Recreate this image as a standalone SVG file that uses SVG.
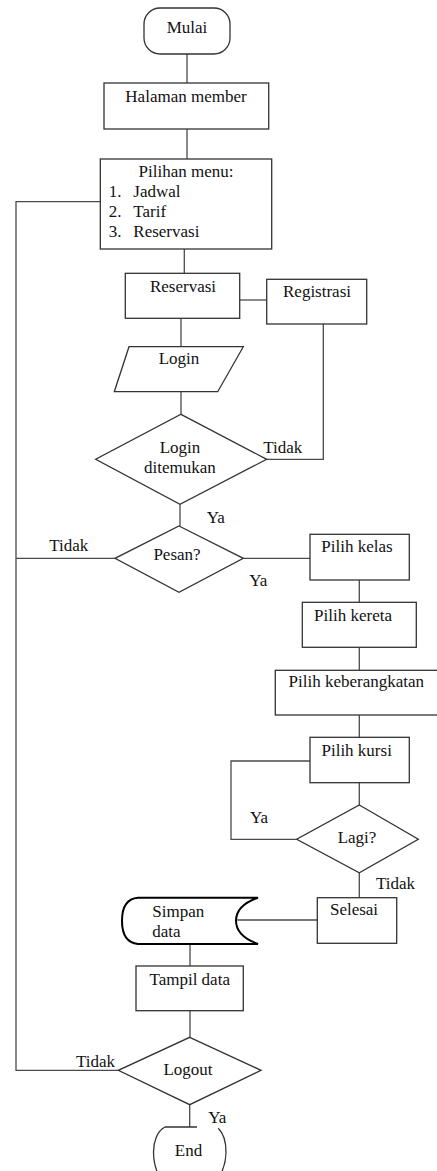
<svg xmlns="http://www.w3.org/2000/svg" width="437" height="1171" viewBox="0 0 437 1171">
<style>
.n{fill:#fff;stroke:#333;stroke-width:1.3}
.c{fill:none;stroke:#4a4a4a;stroke-width:1.3}
.t{font-family:"Liberation Serif","Times New Roman",serif;font-size:17px;fill:#111}
.m{text-anchor:middle}
.sd{fill:#fff;stroke:#000;stroke-width:2}
</style>
<rect width="437" height="1171" fill="#fff"/>
<g id="connectors">
<path class="c" d="M187,54V83"/>
<path class="c" d="M187,129V159"/>
<path class="c" d="M100,201.7H16V1070.3H118.3"/>
<path class="c" d="M16,558.3H115"/>
<path class="c" d="M184.3,249V273.3"/>
<path class="c" d="M238.3,300H266.7"/>
<path class="c" d="M323.3,324V459.3H266.7"/>
<path class="c" d="M181,318.3V346.7"/>
<path class="c" d="M181,391.7V414.3"/>
<path class="c" d="M180,504.3V526"/>
<path class="c" d="M243.3,558.3H310"/>
<path class="c" d="M359.3,580V602.3"/>
<path class="c" d="M359.3,647.3V670.3"/>
<path class="c" d="M359.3,715V737.3"/>
<path class="c" d="M310,761H231V839.3H296.7"/>
<path class="c" d="M359.3,782.7V805"/>
<path class="c" d="M359.3,872.7V897.7"/>
<path class="c" d="M317.3,920H237.3"/>
<path class="c" d="M190,944V966"/>
<path class="c" d="M190,1010.7V1037.3"/>
<path class="c" d="M189.7,1104.7V1127"/>
<text class="t" x="263.3" y="452.7">Tidak</text>
<text class="t" x="206.7" y="523">Ya</text>
<text class="t" x="49.3" y="551">Tidak</text>
<text class="t" x="249.3" y="586">Ya</text>
<text class="t" x="250" y="822.7">Ya</text>
<text class="t" x="376" y="889.3">Tidak</text>
<text class="t" x="76" y="1067.3">Tidak</text>
<text class="t" x="208.3" y="1123.3">Ya</text>
</g>
<g id="mulai">
<rect class="n" x="144" y="8" width="86" height="46" rx="16"/>
<text class="t m" x="187" y="33">Mulai</text>
</g>
<g id="halaman-member">
<rect class="n" x="104" y="83" width="164.7" height="46"/>
<text class="t m" x="186" y="101.7">Halaman member</text>
</g>
<g id="pilihan-menu">
<rect class="n" x="100.3" y="159" width="171.4" height="90"/>
<text class="t m" x="186" y="176.7">Pilihan menu:</text>
<text class="t" x="108.7" y="196.7">1.</text><text class="t" x="133.3" y="196.7">Jadwal</text>
<text class="t" x="108.7" y="216.7">2.</text><text class="t" x="133.3" y="216.7">Tarif</text>
<text class="t" x="108.7" y="237.3">3.</text><text class="t" x="133.3" y="237.3">Reservasi</text>
</g>
<g id="reservasi">
<rect class="n" x="125.3" y="273.3" width="114.4" height="45"/>
<text class="t m" x="183" y="291.7">Reservasi</text>
</g>
<g id="registrasi">
<rect class="n" x="266.7" y="279.3" width="100" height="44.7"/>
<text class="t m" x="317" y="296.7">Registrasi</text>
</g>
<g id="login">
<polygon class="n" points="129,346.7 243.3,346.7 217.7,391.7 114.3,391.7"/>
<text class="t m" x="179" y="364">Login</text>
</g>
<g id="login-ditemukan">
<polygon class="n" points="181,414.3 266.7,459.3 180,504.3 95.7,459.3"/>
<text class="t m" x="180" y="453.3">Login</text>
<text class="t m" x="180" y="473.3">ditemukan</text>
</g>
<g id="pesan">
<polygon class="n" points="179,526 243.3,558.3 179,592.3 115,558.3"/>
<text class="t m" x="177" y="560">Pesan?</text>
</g>
<g id="pilih-kelas">
<rect class="n" x="310" y="534.3" width="99.3" height="45.7"/>
<text class="t m" x="357" y="552.3">Pilih kelas</text>
</g>
<g id="pilih-kereta">
<rect class="n" x="302.3" y="602.3" width="114" height="45"/>
<text class="t m" x="353" y="620.7">Pilih kereta</text>
</g>
<g id="pilih-keberangkatan">
<rect class="n" x="275.3" y="670.3" width="163" height="44.7"/>
<text class="t m" x="356.3" y="687.3">Pilih keberangkatan</text>
</g>
<g id="pilih-kursi">
<rect class="n" x="310" y="737.3" width="99.3" height="45.4"/>
<text class="t m" x="356.7" y="756">Pilih kursi</text>
</g>
<g id="lagi">
<polygon class="n" points="359.3,805 418.3,839.3 359.3,872.7 296.7,839.3"/>
<text class="t m" x="357" y="843.3">Lagi?</text>
</g>
<g id="selesai">
<rect class="n" x="317.3" y="897.7" width="79.4" height="45.6"/>
<text class="t m" x="354" y="915">Selesai</text>
</g>
<g id="simpan-data">
<path class="sd" d="M258,897.7H138Q122,899 122,920.8Q122,942.5 138,944H258Q236,936 236,920.8Q236,905.5 258,897.7Z"/>
<text class="t" x="152.3" y="916.7">Simpan</text>
<text class="t" x="152.3" y="936.7">data</text>
</g>
<g id="tampil-data">
<rect class="n" x="136" y="966" width="107.3" height="44.7"/>
<text class="t m" x="189.7" y="985">Tampil data</text>
</g>
<g id="logout">
<polygon class="n" points="189.7,1037.3 261,1070.3 189.7,1104.7 118.3,1070.3"/>
<text class="t m" x="188" y="1075">Logout</text>
</g>
<g id="end">
<path class="c" style="stroke:#333" d="M197,1127H165C157,1131 153.5,1142 153.5,1152C153.5,1162 156,1170 159,1176"/>
<path class="c" style="stroke:#333" d="M218.3,1128.3C223,1133 226,1142 226,1152C226,1162 223,1170 220,1176"/>
<text class="t m" x="188.5" y="1156">End</text>
</g>
</svg>
